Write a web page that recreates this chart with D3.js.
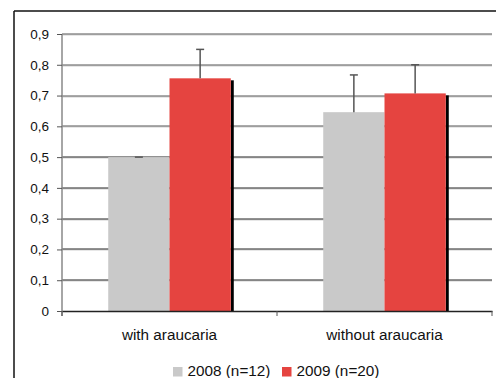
<!DOCTYPE html>
<html lang="en">
<head>
<meta charset="UTF-8">
<title>Araucaria chart</title>
<script src="https://cdnjs.cloudflare.com/ajax/libs/d3/7.8.5/d3.min.js"></script>
<style>
  body { margin: 0; background: #fff; }
  svg { display: block; font-family: "Liberation Sans", Arial, sans-serif; }
</style>
</head>
<body>
<svg id="chart" width="496" height="378"></svg>
<script>
// data
const categories = ["with araucaria", "without araucaria"];
const seriesNames = ["2008 (n=12)", "2009 (n=20)"];
const values2008 = [0.50, 0.646];
const values2009 = [0.756, 0.707];
const errors2008 = [0.0, 0.121];
const errors2009 = [0.094, 0.093];
const yTicks = [0, 0.1, 0.2, 0.3, 0.4, 0.5, 0.6, 0.7, 0.8, 0.9];

const colors = ["#c9c9c9", "#e54440"];
const tickFont = 13.5;
const labelFont = 15.3;
const svg = d3.select("#chart");

const x = d3.scaleBand().domain(categories).range([62, 492]).paddingInner(0).paddingOuter(0);
const y = d3.scaleLinear().domain([0, 0.9]).range([311, 34]);
// bars sit in the middle 57% of each category band
const inner = d3.scaleBand().domain([0, 1])
  .range([x.bandwidth() * 0.215, x.bandwidth() * 0.785]).padding(0);

// outer frame
svg.append("line").attr("x1", 14).attr("x2", 496).attr("y1", 11).attr("y2", 11)
  .attr("stroke", "#111").attr("stroke-width", 1.5);
svg.append("line").attr("x1", 14).attr("x2", 14).attr("y1", 11).attr("y2", 378)
  .attr("stroke", "#111").attr("stroke-width", 1.5);

// gridlines
const grid = svg.append("g");
yTicks.filter(d => d > 0).forEach(t => {
  grid.append("line").attr("x1", 62).attr("x2", 492)
    .attr("y1", Math.round(y(t)) + 1).attr("y2", Math.round(y(t)) + 1)
    .attr("stroke", "#d0d0d0").attr("stroke-width", 1);
  grid.append("line").attr("x1", 62).attr("x2", 492)
    .attr("y1", Math.round(y(t))).attr("y2", Math.round(y(t)))
    .attr("stroke", t >= 0.6 ? "#555" : "#222").attr("stroke-width", 1);
});

// bars
const data = categories.map((c, i) => ({
  cat: c,
  vals: [
    { s: 0, v: values2008[i], e: errors2008[i] },
    { s: 1, v: values2009[i], e: errors2009[i] }
  ]
}));

const groups = svg.append("g").selectAll("g").data(data).join("g")
  .attr("transform", d => `translate(${x(d.cat)},0)`);

// shadow on the red bar
groups.each(function(d) {
  const r = d.vals[1];
  d3.select(this).append("rect")
    .attr("x", inner(1) + inner.bandwidth()).attr("y", y(r.v) + 2)
    .attr("width", 3).attr("height", y(0) - y(r.v) - 2).attr("fill", "#000");
});

groups.selectAll("rect.bar").data(d => d.vals).join("rect")
  .attr("class", "bar")
  .attr("x", d => inner(d.s)).attr("y", d => y(d.v))
  .attr("width", inner.bandwidth()).attr("height", d => y(0) - y(d.v))
  .attr("fill", d => colors[d.s]);

// error bars
groups.selectAll("g.err").data(d => d.vals).join("g").attr("class", "err")
  .each(function(d) {
    const g = d3.select(this);
    const cx = inner(d.s) + inner.bandwidth() / 2;
    g.append("line").attr("x1", cx).attr("x2", cx).attr("y1", y(d.v)).attr("y2", y(d.v + d.e))
      .attr("stroke", "#555").attr("stroke-width", 1.5);
    g.append("line").attr("x1", cx - 4).attr("x2", cx + 4).attr("y1", y(d.v + d.e)).attr("y2", y(d.v + d.e))
      .attr("stroke", "#555").attr("stroke-width", 1.5);
  });

// y axis
const yAxis = svg.append("g").attr("transform", "translate(62,0)")
  .call(d3.axisLeft(y).tickValues(yTicks).tickSize(5).tickPadding(8)
    .tickFormat(d => d3.format(".1f")(d).replace(".", ",").replace(/^0,0$/, "0")));
yAxis.select(".domain").attr("stroke", "#888").attr("stroke-width", 1.5)
  .attr("d", "M0,34V316");
yAxis.selectAll(".tick line").attr("stroke", "#555");
yAxis.selectAll(".tick text").attr("font-size", tickFont).attr("fill", "#111")
  .attr("font-family", "Liberation Sans, Arial, sans-serif");

// x axis
const xAxis = svg.append("g").attr("transform", "translate(0,311)")
  .call(d3.axisBottom(x).tickSize(0).tickPadding(18));
xAxis.select(".domain").attr("stroke", "#222").attr("stroke-width", 1.5);
xAxis.selectAll(".tick text").attr("font-size", labelFont).attr("fill", "#111")
  .attr("font-family", "Liberation Sans, Arial, sans-serif");
[62, 277, 492].forEach(t => {
  svg.append("line").attr("x1", t).attr("x2", t).attr("y1", 311).attr("y2", 316)
    .attr("stroke", "#555").attr("stroke-width", 1);
});

// legend
const legendX = [173, 282];
const legend = svg.append("g");
seriesNames.forEach((n, i) => {
  legend.append("rect").attr("x", legendX[i]).attr("y", 367).attr("width", 9.5).attr("height", 9.5)
    .attr("fill", colors[i]);
  legend.append("text").attr("x", legendX[i] + 14.5).attr("y", 376)
    .attr("font-size", labelFont).attr("fill", "#111").text(n);
});
</script>
</body>
</html>
